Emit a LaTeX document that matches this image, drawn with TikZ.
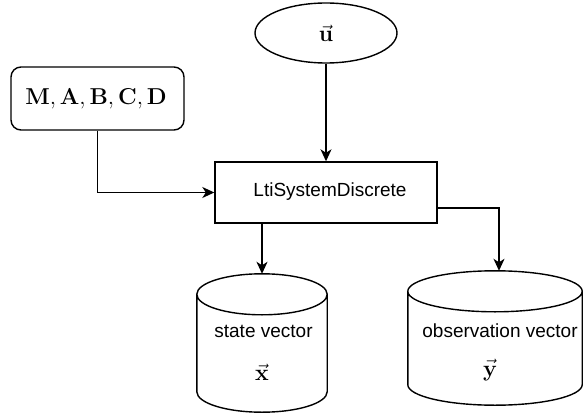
\RequirePackage{fix-cm}
\documentclass[tikz,border=0pt]{standalone}
\usepackage[no-math]{fontspec}
\setmainfont{Liberation Sans}
\usetikzlibrary{arrows.meta,shapes.geometric,calc}
\tikzset{
  ln/.style={line width=1.4pt, draw=black},
  arr/.style={ln, -{Stealth[length=12pt,width=11pt,inset=3.5pt]}},
  txt/.style={font=\fontsize{19}{23}\selectfont, inner sep=0pt},
  mth/.style={font=\fontsize{23}{27}\selectfont, inner sep=0pt},
  cylbox/.style={draw=none, minimum width=#1, inner sep=0pt, rectangle},
}
% draw a vertical cylinder outline in the extent of node #1, cap radius #2 (pt)
\newcommand\drawcyl[2]{%
  \draw[ln] let \p1=(#1.north west), \p2=(#1.south east) in
    (\x1,\y1-#2pt) -- (\x1,\y2+#2pt)
    arc[start angle=180,end angle=360,x radius={(\x2-\x1)/2},y radius=#2pt]
    -- (\x2,\y1-#2pt)
    arc[start angle=0,end angle=180,x radius={(\x2-\x1)/2},y radius=#2pt]
    arc[start angle=180,end angle=360,x radius={(\x2-\x1)/2},y radius=#2pt];
}
\begin{document}
\begin{tikzpicture}[x=1pt,y=-1pt]
\useasboundingbox (0,0) rectangle (583,417);
% nodes
\node[ln, rounded corners=10pt, minimum width=173pt, minimum height=63pt, inner sep=0pt] (mats) at (97.5,98.5) {};
\node[mth] (matstxt) at (96,98.5) {$\mathbf{M},\mathbf{A},\mathbf{B},\mathbf{C},\mathbf{D}$};
\node[ln, ellipse, minimum width=142pt, minimum height=60pt, inner sep=0pt] (u) at (326,33) {};
\node[mth] (utxt) at (326,33) {$\vec{\mathbf{u}}$};
\node[ln, rectangle, minimum width=222pt, minimum height=61pt, inner sep=0pt] (sys) at (326,192.5) {};
\node[txt] (systxt) at (330,192) {LtiSystemDiscrete};
\node[cylbox=130pt, minimum height=138pt] (xcyl) at (262,343) {};
\node[cylbox=174pt, minimum height=134pt] (ycyl) at (495,338) {};
\drawcyl{xcyl}{20.5}
\drawcyl{ycyl}{20.5}
\node[txt] (xlab) at (263.5,331) {state vector};
\node[mth] (xvec) at (262,372) {$\vec{\mathbf{x}}$};
\node[txt] (ylab) at (500,331) {observation vector};
\node[mth] (yvec) at (490,370) {$\vec{\mathbf{y}}$};
% connectors
\draw[arr] (u.south) -- (sys.north);
\draw[arr] (mats.south) |- (sys.west);
\draw[arr] (xcyl.north |- sys.south) -- (xcyl.north);
\draw[arr] ([yshift=-15.5pt]sys.east) -| ([xshift=4pt]ycyl.north);
\end{tikzpicture}
\end{document}
